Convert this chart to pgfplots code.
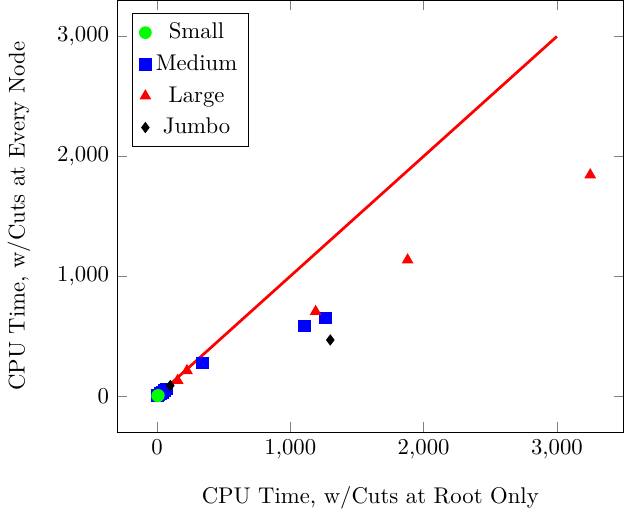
\documentclass[border=0pt]{standalone}
\usepackage{pgfplots}
\pgfplotsset{compat=1.18}
\begin{document}
\begin{tikzpicture}
\begin{axis}[
  width=223pt, height=190pt, scale only axis,
  xmin=-300, xmax=3500, ymin=-300, ymax=3300,
  xtick={0,1000,2000,3000}, ytick={0,1000,2000,3000},
  xlabel={CPU Time, w/Cuts at Root Only},
  ylabel={CPU Time, w/Cuts at Every Node},
  xlabel style={yshift=-5pt},
  ylabel style={yshift=5pt},
  legend pos=north west,
  legend cell align=center,
  legend style={font=\normalsize, row sep=1.5pt},
]
\addlegendimage{only marks, mark=*, mark size=2.6pt, color=green}
\addlegendentry{Small}
\addlegendimage{only marks, mark=square*, mark size=2.6pt, color=blue}
\addlegendentry{Medium}
\addlegendimage{only marks, mark=triangle*, mark size=2.6pt, color=red}
\addlegendentry{Large}
\addlegendimage{only marks, mark=diamond*, mark size=2.2pt, color=black}
\addlegendentry{Jumbo}
% Medium
\addplot[forget plot, only marks, mark=square*, mark size=2.6pt, color=blue] coordinates {
  (5,5) (15,10) (25,20) (40,30) (55,45) (70,60) (338,276) (1105,585) (1263,652)
};
% Large
\addplot[forget plot, only marks, mark=triangle*, mark size=2.6pt, color=red] coordinates {
  (155,130) (225,212) (1190,705) (1880,1135) (3250,1845)
};
% diagonal
\addplot[forget plot, red, line width=1.2pt] coordinates {(0,0) (3000,3000)};
% Jumbo
\addplot[forget plot, only marks, mark=diamond*, mark size=2.2pt, color=black] coordinates {
  (100,88) (1300,468)
};
% Small
\addplot[forget plot, only marks, mark=*, mark size=2.6pt, color=green] coordinates {
  (5,2) (10,5)
};
\end{axis}
\end{tikzpicture}
\end{document}
